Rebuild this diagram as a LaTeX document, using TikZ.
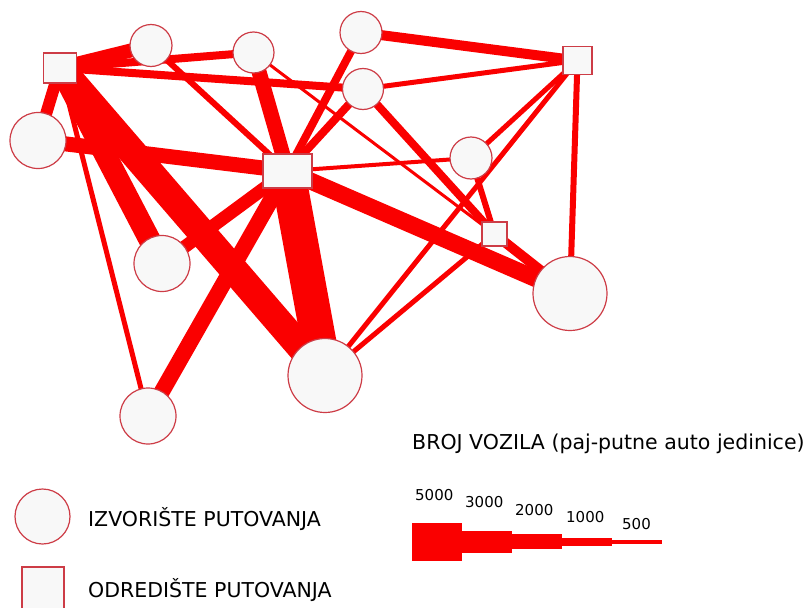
\documentclass[tikz,border=0pt]{standalone}
\usepackage{fontspec}
\setmainfont{DejaVu Sans}
\usetikzlibrary{backgrounds}
\definecolor{tok}{RGB}{250,0,0}
\definecolor{rub}{RGB}{205,60,70}
\definecolor{ispuna}{RGB}{248,248,248}
\tikzset{
  izvor/.style={circle,draw=rub,fill=ispuna,line width=1.2pt,inner sep=0pt},
  odred/.style={rectangle,draw=rub,fill=ispuna,line width=1.2pt,inner sep=0pt},
  veza/.style={draw=tok,line width=#1},
  natpis/.style={anchor=base west,inner sep=0pt,font=\fontsize{20.5}{24}\selectfont},
  broj/.style={anchor=base west,inner sep=0pt,font=\fontsize{15}{18}\selectfont}
}
\begin{document}
\begin{tikzpicture}[x=1pt,y=-1pt]
      \useasboundingbox (0,0) rectangle (809,608);
      \draw
        (60,68) node[odred,minimum width=33pt,minimum height=30pt] (o1){}
        (287.5,171) node[odred,minimum width=49pt,minimum height=34pt] (o2){}
        (577.5,60.5) node[odred,minimum width=29pt,minimum height=28pt] (o3){}
        (494.5,234) node[odred,minimum width=25pt,minimum height=24pt] (o4){}
        (151,45.5) node[izvor,minimum size=42pt] (i1){}
        (253.5,52.5) node[izvor,minimum size=41pt] (i2){}
        (361,32.5) node[izvor,minimum size=42pt] (i3){}
        (363,89) node[izvor,minimum size=41pt] (i4){}
        (38,140.5) node[izvor,minimum size=56pt] (i5){}
        (162,263.5) node[izvor,minimum size=56pt] (i6){}
        (471,158) node[izvor,minimum size=42pt] (i7){}
        (570,293.5) node[izvor,minimum size=74pt] (i8){}
        (325,375.5) node[izvor,minimum size=74pt] (i9){}
        (148,416) node[izvor,minimum size=56pt] (i10){};
      \begin{scope}[on background layer]
        \draw[veza=14pt] (o1.center) to (i1.center);
        \draw[veza=8pt] (o1.center) to (i2.center);
        \draw[veza=8pt] (o1.center) to (i4.center);
        \draw[veza=12pt] (o1.center) to (i5.center);
        \draw[veza=22pt] (o1.center) to (i6.center);
        \draw[veza=28pt] (o1.center) to (i9.center);
        \draw[veza=5pt] (o1.center) to (i10.center);
        \draw[veza=6pt] (i1.center) to (o2.center);
        \draw[veza=15pt] (i2.center) to (o2.center);
        \draw[veza=3pt] (i2.center) to (o4.center);
        \draw[veza=10pt] (i3.center) to (o3.center);
        \draw[veza=8pt] (i3.center) to (o2.center);
        \draw[veza=8pt] (i4.center) to (o2.center);
        \draw[veza=5pt] (i4.center) to (o3.center);
        \draw[veza=8pt] (i4.center) to (o4.center);
        \draw[veza=15pt] (i5.center) to (o2.center);
        \draw[veza=13pt] (o2.center) to (i6.center);
        \draw[veza=16pt] (o2.center) to (i10.center);
        \draw[veza=35pt] (o2.center) to (i9.center);
        \draw[veza=17pt] (o2.center) to (i8.center);
        \draw[veza=4pt] (o2.center) to (i7.center);
        \draw[veza=5pt] (i7.center) to (o3.center);
        \draw[veza=6pt] (i7.center) to (o4.center);
        \draw[veza=6pt] (o3.center) to (i8.center);
        \draw[veza=10pt] (o4.center) to (i8.center);
        \draw[veza=5pt] (i9.center) to (o3.center);
        \draw[veza=5pt] (i9.center) to (o4.center);
      \end{scope}
      \node[izvor,minimum size=55pt] (lizvor) at (42.5,516.5) {};
      \node[odred,minimum width=42pt,minimum height=46pt] (lodred) at (43,590) {};
      \node[natpis] (tizvor) at (88,526) {IZVORIŠTE PUTOVANJA};
      \node[natpis] (todred) at (88,597) {ODREDIŠTE PUTOVANJA};
      \node[natpis] (tbroj) at (412,449) {BROJ VOZILA (paj-putne auto jedinice)};
      \fill[tok] (412,523) rectangle (462,561);
      \fill[tok] (462,531) rectangle (512,553);
      \fill[tok] (512,534) rectangle (562,549);
      \fill[tok] (562,538) rectangle (612,546);
      \fill[tok] (612,540) rectangle (662,544);
      \node[broj] (b5000) at (415,500) {5000};
      \node[broj] (b3000) at (465,507) {3000};
      \node[broj] (b2000) at (515,515) {2000};
      \node[broj] (b1000) at (566,522) {1000};
      \node[broj] (b500) at (622,529) {500};
    \end{tikzpicture}
\end{document}
